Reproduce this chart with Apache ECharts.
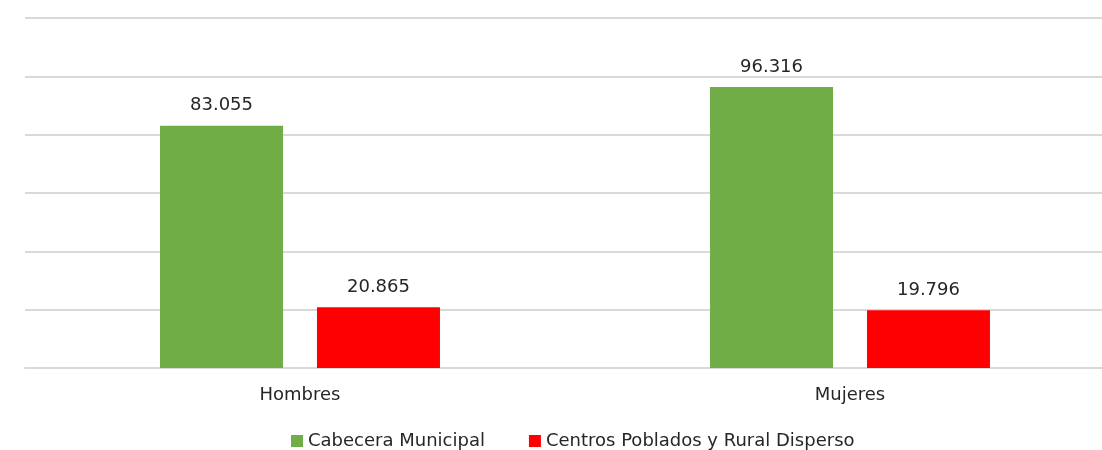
<!DOCTYPE html>
<html>
<head>
<meta charset="utf-8">
<script src="https://cdn.jsdelivr.net/npm/echarts@6/dist/echarts.min.js"></script>
<style>
  html, body { margin: 0; padding: 0; background: #fff; }
  #chart { width: 1102px; height: 450px; }
</style>
</head>
<body>
<div id="chart"></div>
<script>
var categories = ['Hombres', 'Mujeres'];
var cabecera = [83.055, 96.316];
var centros = [20.865, 19.796];
var seriesNames = ['Cabecera Municipal', 'Centros Poblados y Rural Disperso'];

var fontFamily = '"DejaVu Sans", Verdana, sans-serif';
var textColor = '#262626';

var labelOpt = {
    show: true,
    position: 'top',
    distance: 11,
    fontSize: 18,
    fontFamily: fontFamily,
    color: textColor,
    formatter: function (p) { return p.value.toFixed(3); }
};

var chart = echarts.init(document.getElementById('chart'));
chart.setOption({
    animation: false,
    backgroundColor: '#fff',
    grid: { left: 25, top: 18, width: 1100, bottom: 82, outerBoundsMode: 'none', containLabel: false },
    legend: {
        left: 291,
        top: 432,
        padding: 0,
        itemWidth: 12,
        itemHeight: 12,
        itemGap: 44,
        icon: 'rect',
        textStyle: { fontSize: 18, fontFamily: fontFamily, color: textColor },
        data: seriesNames
    },
    xAxis: {
        type: 'category',
        data: categories,
        axisLine: { lineStyle: { color: '#d9d9d9', width: 2 } },
        axisTick: { show: false },
        axisLabel: { fontSize: 18, fontFamily: fontFamily, color: textColor, margin: 18 }
    },
    yAxis: {
        type: 'value',
        min: 0,
        max: 120,
        interval: 20,
        axisLabel: { show: false },
        axisLine: { show: false },
        axisTick: { show: false },
        splitLine: { lineStyle: { color: '#d9d9d9', width: 2 } }
    },
    series: [
        {
            name: seriesNames[0],
            type: 'bar',
            data: cabecera,
            barWidth: 123,
            barGap: '27.6%',
            itemStyle: { color: '#70ad47' },
            label: labelOpt
        },
        {
            name: seriesNames[1],
            type: 'bar',
            data: centros,
            barWidth: 123,
            barGap: '27.6%',
            itemStyle: { color: '#ff0000' },
            label: labelOpt
        }
    ]
});
</script>
</body>
</html>
